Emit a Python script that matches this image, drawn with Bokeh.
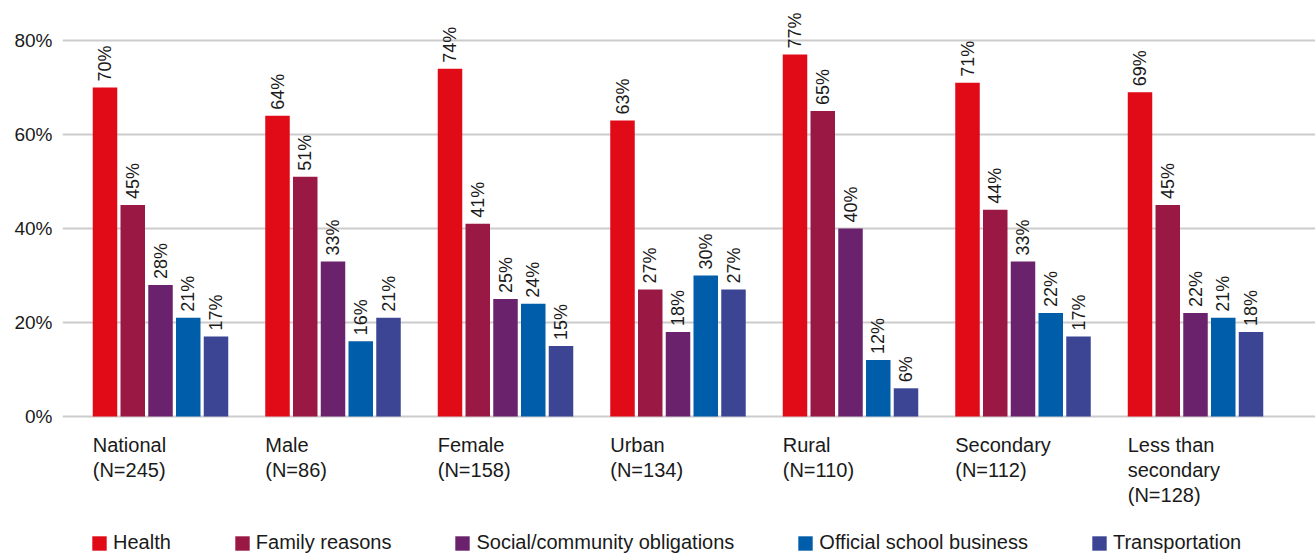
import math
from bokeh.plotting import figure
from bokeh.models import ColumnDataSource, Range1d, FixedTicker, Legend, LegendItem
from bokeh.core.properties import value
from bokeh.embed import file_html
from bokeh.resources import INLINE

# ---------------- data ----------------
categories = ["National\n(N=245)", "Male\n(N=86)", "Female\n(N=158)", "Urban\n(N=134)",
              "Rural\n(N=110)", "Secondary\n(N=112)", "Less than\nsecondary\n(N=128)"]
series_names = ["Health", "Family reasons", "Social/community obligations",
                "Official school business", "Transportation"]
health = [70, 64, 74, 63, 77, 71, 69]
family = [45, 51, 41, 27, 65, 44, 45]
social = [28, 33, 25, 18, 40, 33, 22]
official = [21, 16, 24, 30, 12, 22, 21]
transport = [17, 21, 15, 27, 6, 17, 18]
y_ticks = [0, 20, 40, 60, 80]
y_tick_labels = ["0%", "20%", "40%", "60%", "80%"]
colors = ["#E10A17", "#9A1944", "#6A226C", "#005DAA", "#3C4494"]

series_values = [health, family, social, official, transport]

# ---------------- layout constants ----------------
FONT = "Liberation Sans"
W, H = 1315, 554
frame_left = 62
zero_px = 416            # screen y of the 0% line
px_per_unit = 4.7
group_pitch = 172.5
bar_pitch = 27.75
bar_width = 24.5
first_center = 42.5

p = figure(width=W, height=H, output_backend="svg", toolbar_location=None,
           x_range=Range1d(0, W - frame_left),
           y_range=Range1d(-(H - zero_px) / px_per_unit, zero_px / px_per_unit),
           min_border_left=frame_left, min_border_right=0, min_border_top=0,
           min_border_bottom=0)
p.outline_line_color = None
p.background_fill_color = "white"
p.border_fill_color = "white"

p.xaxis.visible = False
p.xgrid.visible = False

p.yaxis.ticker = FixedTicker(ticks=y_ticks)
p.yaxis.major_label_overrides = {t: l for t, l in zip(y_ticks, y_tick_labels)}
p.yaxis.axis_line_color = None
p.yaxis.major_tick_line_color = None
p.yaxis.minor_tick_line_color = None
p.yaxis.major_label_standoff = 4
p.yaxis.major_label_text_font = FONT
p.yaxis.major_label_text_font_size = "19px"
p.yaxis.major_label_text_color = "#1a1a1a"
p.ygrid.ticker = FixedTicker(ticks=y_ticks)
p.ygrid.grid_line_color = "#cccccc"
p.ygrid.grid_line_width = 2

items = []
for k, (name, vals, col) in enumerate(zip(series_names, series_values, colors)):
    xs = [first_center + group_pitch * g + bar_pitch * k for g in range(len(vals))]
    src = ColumnDataSource(dict(x=xs, top=vals, lab=[f"{v}%" for v in vals]))
    r = p.vbar(x="x", top="top", bottom=0, width=bar_width, source=src,
               fill_color=col, line_color=None)
    p.text(x="x", y="top", text="lab", source=src, angle=math.pi / 2,
           text_align="left", text_baseline="middle", x_offset=0, y_offset=-6,
           text_font=value(FONT), text_font_size="18px", text_color="#1a1a1a")
    items.append(LegendItem(label=name, renderers=[r]))

cat_src = ColumnDataSource(dict(
    x=[first_center - bar_width / 2 + group_pitch * g for g in range(len(categories))],
    y=[0] * len(categories), text=categories))
p.text(x="x", y="y", text="text", source=cat_src, y_offset=17,
       text_align="left", text_baseline="top", text_font=value(FONT),
       text_font_size="20px", text_color="#1a1a1a", text_line_height=1.15)

legend = Legend(items=items, orientation="horizontal", location=(28, 0),
                glyph_width=18, glyph_height=18, label_standoff=5, spacing=62,
                padding=0, margin=0, border_line_color=None, background_fill_alpha=0,
                label_text_font=FONT, label_text_font_size="20px", label_text_color="#1a1a1a",
                label_height=20)
p.add_layout(legend, "center")

open("out.html", "w").write(file_html(p, INLINE))
